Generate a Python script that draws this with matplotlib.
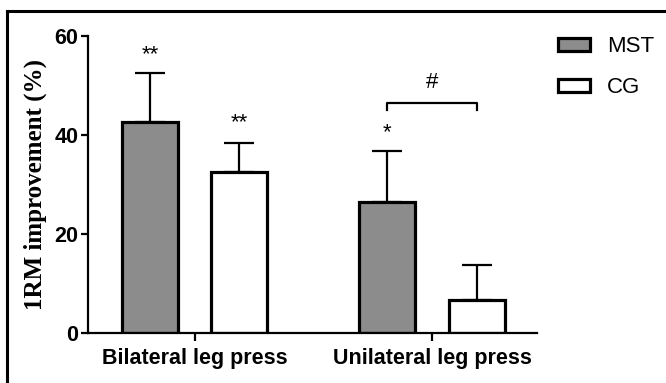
import numpy as np
import matplotlib
matplotlib.use("Agg")
import matplotlib.pyplot as plt
from matplotlib.lines import Line2D
from matplotlib.patches import Patch

# data
exercises = ["Bilateral leg press", "Unilateral leg press"]
groups = ["MST", "CG"]
mst_mean = [42.6, 26.5]
mst_sd = [9.9, 10.3]
cg_mean = [32.5, 6.6]
cg_sd = [5.9, 7.2]
mst_marks = ["**", "*"]
cg_marks = ["**", ""]

fig = plt.figure(figsize=(6.66, 3.83), dpi=100)
ax = fig.add_axes([0.1321, 0.1305, 0.6742, 0.7755])

x = np.arange(len(exercises))
w = 0.236
off = 0.188
edge_lw = 2.3

ax.errorbar(x - off, mst_mean, yerr=[np.zeros(2), mst_sd], fmt='none',
            ecolor='black', elinewidth=1.6, capsize=10.5, capthick=1.6, zorder=1)
ax.errorbar(x + off, cg_mean, yerr=[np.zeros(2), cg_sd], fmt='none',
            ecolor='black', elinewidth=1.6, capsize=10.5, capthick=1.6, zorder=1)
ax.bar(x - off, mst_mean, w, color='#8c8c8c', edgecolor='black', linewidth=edge_lw, zorder=2)
ax.bar(x + off, cg_mean, w, color='white', edgecolor='black', linewidth=edge_lw, zorder=2)

for i in range(len(x)):
    if mst_marks[i]:
        ax.text(x[i] - off, mst_mean[i] + mst_sd[i] + 3.7, mst_marks[i],
                ha='center', va='center', fontsize=16, family='Liberation Sans')
    if cg_marks[i]:
        ax.text(x[i] + off, cg_mean[i] + cg_sd[i] + 4.1, cg_marks[i],
                ha='center', va='center', fontsize=16, family='Liberation Sans')

# significance bracket between unilateral groups
by = 46.4
ax.plot([x[1] - off, x[1] - off, x[1] + off, x[1] + off], [by - 1.3, by, by, by - 1.3],
        color='black', lw=1.6, clip_on=False)
ax.text(x[1], by + 4.3, "#", ha='center', va='center', fontsize=16, family='Liberation Sans')

ax.set_xlim(-0.451, 1.443)
ax.set_ylim(0, 60)
ax.set_yticks([0, 20, 40, 60])
ax.set_xticks(x)
ax.set_xticklabels(exercises)
for s in ['top', 'right']:
    ax.spines[s].set_visible(False)
for s in ['left', 'bottom']:
    ax.spines[s].set_linewidth(1.6)
ax.tick_params(axis='y', length=5, width=1.6, pad=2)
ax.tick_params(axis='x', length=6, width=1.6, pad=5)
for lab in ax.get_xticklabels() + ax.get_yticklabels():
    lab.set_family('Liberation Sans')
    lab.set_fontweight('bold')
    lab.set_fontsize(15.5)

ax.set_ylabel("1RM improvement (%)", family='Liberation Serif', fontweight='bold',
              fontsize=18, labelpad=5)

handles = [Patch(facecolor='#8c8c8c', edgecolor='black', linewidth=2.3),
           Patch(facecolor='white', edgecolor='black', linewidth=2.3)]
fig.legend(handles, groups, loc='upper left', bbox_to_anchor=(0.8385, 0.905),
           frameon=False, prop={'family': 'Liberation Sans', 'size': 16},
           handlelength=1.4, handleheight=0.55, handletextpad=0.8, labelspacing=0.9,
           borderaxespad=0, borderpad=0)

# frame lines at top and left of the figure
fig.add_artist(Line2D([0.0105, 0.0105], [0, 0.972], color='black', lw=2.2))
fig.add_artist(Line2D([0.0105, 1.0], [0.972, 0.972], color='black', lw=2.2))

fig.savefig("out.png", dpi=100)
